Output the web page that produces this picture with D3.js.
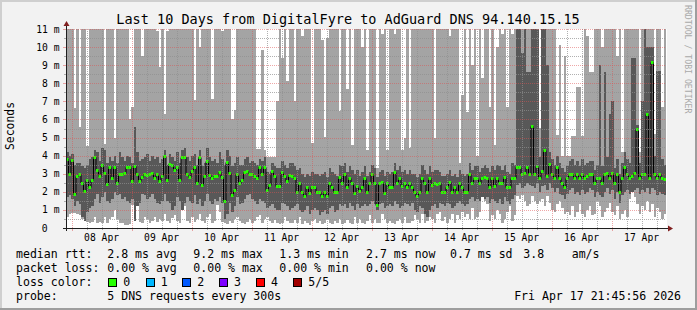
<!DOCTYPE html>
<html><head><meta charset="utf-8">
<script src="https://cdn.jsdelivr.net/npm/d3@7"></script>
<style>
html,body{margin:0;padding:0;background:#f2f2f2;}
svg{display:block;}
text{font-family:"DejaVu Sans Mono",monospace;}
</style></head><body>
<svg id="c" width="697" height="310"></svg>
<script>
// hourly samples (240) – median rtt in ms
const median = [
3.8,3.0,3.75,1.9,2.9,3.0,2.5,2.05,2.65,2.25,
2.65,3.9,3.2,2.85,3.5,3.05,2.45,3.35,2.75,3.35,
2.5,3.0,3.0,3.05,3.35,3.35,2.6,3.45,3.0,2.6,
2.8,3.0,2.95,3.0,3.05,2.75,3.0,2.6,2.85,4.0,
2.65,3.55,3.5,3.2,3.35,2.65,3.9,3.95,3.0,2.8,
3.15,3.35,2.5,3.95,2.35,2.9,3.7,2.95,2.75,2.9,
2.85,3.1,2.8,1.5,3.65,3.05,1.8,2.1,3.0,2.5,
2.65,3.1,3.15,3.0,3.0,2.9,2.75,3.35,3.0,3.35,
2.1,2.35,3.15,2.85,2.3,2.3,3.1,2.9,2.6,2.95,
2.9,2.75,2.0,2.5,2.0,1.75,2.25,1.95,2.25,2.25,
2.0,2.0,1.75,2.0,1.75,2.5,2.25,2.0,2.0,2.8,
2.5,3.0,2.25,2.75,2.5,1.95,2.3,2.05,2.25,2.75,
2.0,2.5,3.0,2.5,1.25,2.5,2.55,1.95,2.5,2.25,
2.25,3.1,2.5,2.75,2.3,2.5,2.25,2.5,2.25,2.0,
1.75,2.0,2.75,2.5,2.0,2.75,2.35,2.5,2.45,2.5,
2.0,2.0,2.25,2.55,2.0,2.25,2.0,2.5,2.25,2.0,
2.0,3.0,2.5,2.75,2.75,2.5,2.75,2.8,2.75,2.25,
2.75,2.3,2.75,2.5,2.5,2.8,2.25,2.25,2.75,2.75,
3.35,3.35,3.0,3.05,3.35,3.0,5.65,3.0,3.4,2.75,
3.15,4.3,2.85,3.55,3.0,2.75,3.35,2.75,2.5,2.25,
2.75,3.0,3.0,2.75,3.0,2.75,3.0,2.75,2.9,3.0,
3.0,2.5,2.75,2.75,2.5,3.0,3.05,2.75,3.05,2.5,
3.0,2.0,2.75,3.35,3.0,2.75,2.85,3.05,5.45,2.75,
3.0,3.0,6.3,2.75,9.2,3.0,2.75,3.0,2.75,2.7];

// 4th of 5 sorted pings (upper edge of inner smoke)
const ping4 = [
4.2,4.0,4.1,3.5,3.6,3.6,3.4,3.3,3.5,3.8,
3.9,4.3,4.2,3.7,4.4,4.3,3.6,3.9,3.7,4.0,
3.6,4.2,3.9,3.7,4.0,3.9,3.6,5.6,4.2,3.7,
3.8,3.9,4.1,3.7,4.0,3.8,3.9,3.6,3.8,4.3,
3.5,4.1,3.9,3.7,4.2,3.6,4.3,4.4,3.9,3.7,
4.0,4.1,3.5,4.3,3.4,3.6,4.4,3.9,3.7,3.8,
3.6,4.2,3.8,3.5,4.3,4.0,3.4,3.6,3.9,3.5,
3.5,3.8,3.9,3.6,3.7,3.6,3.5,3.8,3.7,3.9,
3.1,3.0,3.6,3.4,3.3,3.3,3.7,3.5,3.3,3.6,
3.6,3.4,3.2,3.3,3.0,2.8,3.0,2.9,3.1,3.0,
3.0,2.9,3.0,3.1,2.8,3.3,3.1,3.0,2.9,3.5,
3.4,3.6,3.1,3.4,3.2,3.0,3.2,2.9,3.1,3.4,
2.9,3.1,3.5,3.3,2.8,3.1,3.2,2.9,3.1,3.0,
3.1,3.6,3.2,3.4,3.1,3.2,3.0,3.2,3.0,3.0,
2.8,3.0,3.5,3.2,3.0,3.4,3.1,3.2,3.2,3.1,
2.9,2.9,3.0,3.2,2.9,3.0,2.8,3.2,3.0,2.9,
3.0,3.6,3.2,3.4,3.4,3.1,3.3,3.5,3.3,3.1,
3.4,3.2,3.5,3.4,3.2,3.5,3.1,3.0,3.6,3.5,
12,12,9.65,12,8.65,8.65,12,12,12,3.9,
12,12,9.0,4.2,3.8,3.5,4.0,3.6,3.3,3.1,
3.4,3.7,3.8,3.5,3.7,3.4,3.8,3.5,3.6,3.7,
3.7,3.2,3.5,9.0,3.4,8.65,3.9,6.3,7.0,3.3,
3.8,3.0,3.6,4.2,3.8,3.6,9.4,9.4,5.7,3.6,
7.0,11.5,10.0,10.0,10.0,4.0,8.7,8.7,3.8,3.5];

// 2nd of 5 sorted pings (lower edge of inner smoke)
const ping2 = [
1.7,1.8,1.6,1.2,1.5,1.3,0.6,0.4,0.9,1.1,
1.2,1.6,1.9,1.4,1.7,2.0,1.5,1.4,1.6,2.0,
1.8,1.9,1.6,1.7,1.5,1.4,1.6,0.4,1.2,1.4,
1.9,1.8,1.6,1.7,1.9,1.6,1.4,1.3,1.5,1.9,
1.5,1.4,1.0,1.2,1.7,1.5,1.0,1.4,1.7,1.5,
1.4,1.8,1.3,1.6,1.2,1.5,1.9,1.5,1.3,1.6,
1.5,1.7,1.4,0.5,0.8,1.4,0.9,1.2,1.7,1.3,
1.4,1.6,1.8,1.9,1.6,1.5,1.3,1.6,1.5,1.4,
1.1,1.2,1.3,1.1,1.0,1.0,1.4,1.3,1.2,1.0,
1.1,1.2,1.3,1.0,0.9,1.0,1.2,0.8,1.0,1.1,
1.0,0.7,0.9,1.0,0.8,1.1,1.2,0.9,1.0,1.3,
1.2,1.3,1.1,1.4,1.2,1.0,1.3,1.1,1.2,1.3,
1.2,1.3,1.5,1.3,1.0,1.3,1.4,1.1,1.2,1.3,
1.2,1.5,1.3,1.1,1.2,1.4,1.3,1.2,1.4,1.0,
0.9,1.2,1.1,0.8,0.6,1.0,1.2,1.3,1.1,1.4,
1.3,1.2,1.4,1.3,1.1,1.2,1.4,1.5,1.3,1.2,
1.3,1.6,1.7,1.5,1.6,1.5,1.7,1.6,1.7,1.4,
1.6,1.5,1.4,1.6,1.3,1.7,1.5,1.3,1.6,1.8,
2.4,2.5,2.2,2.3,2.5,2.4,2.3,2.2,2.5,2.0,
2.3,2.4,2.1,2.5,2.2,2.0,2.2,1.9,1.8,1.6,
1.9,2.1,2.2,1.9,2.0,1.8,2.1,1.9,2.0,2.2,
2.1,1.7,2.0,1.8,1.7,2.0,2.2,1.9,2.1,1.6,
2.0,1.4,1.8,2.0,2.1,1.9,2.0,2.1,2.2,1.9,
2.1,2.0,2.2,1.9,2.2,2.1,1.8,2.0,1.9,1.8];

// fastest ping (lower edge of outer smoke)
const ping1 = [
0.6,0.8,0.85,0.85,0.8,0.7,0.5,0.45,0.35,0.3,
0.35,0.6,0.3,0.35,0.25,0.6,0.3,0.5,0.6,1.0,
0.5,0.3,0.3,0.15,0.15,0.2,1.25,1.3,1.2,0.35,
0.3,0.6,0.5,0.3,0.4,0.6,0.35,0.5,0.4,0.8,
0.4,0.3,0.55,0.7,0.4,0.3,1.75,1.2,0.4,0.3,
0.6,0.35,0.5,0.8,0.4,0.3,0.6,0.8,0.3,0.4,
1.25,0.9,0.35,0.3,0.2,0.4,0.3,0.5,0.6,0.4,
0.3,0.2,0.35,0.5,0.3,0.4,0.6,0.7,0.3,0.5,
0.6,0.4,0.3,0.45,0.3,0.2,0.3,0.6,0.4,0.3,
0.3,0.45,0.3,0.6,0.2,0.4,0.3,0.15,0.4,0.5,
0.3,0.4,0.2,0.3,0.5,0.3,0.2,0.4,0.3,0.5,
0.2,0.3,0.45,0.3,0.2,0.6,0.3,0.5,0.3,0.2,
0.4,0.7,0.3,0.5,0.25,0.3,0.8,0.5,0.3,0.4,
0.3,0.2,0.4,0.5,0.3,0.6,0.25,0.3,0.4,0.7,
0.5,0.3,0.8,0.3,0.4,0.6,0.5,0.3,0.8,0.9,
0.4,0.6,0.3,0.5,0.8,0.3,0.7,0.5,0.9,0.6,
0.8,0.5,1.1,0.5,0.6,0.9,1.7,1.5,1.3,0.4,
0.7,0.5,1.0,0.8,0.3,0.5,0.9,1.2,0.4,0.7,
1.75,1.6,1.8,1.5,1.2,1.3,1.75,1.5,1.3,1.5,
1.6,1.2,1.75,1.4,1.0,0.9,1.3,1.5,1.1,0.8,
0.9,0.7,1.2,0.6,0.9,1.3,0.8,0.6,1.0,1.2,
0.7,0.8,1.5,1.2,0.6,0.9,1.1,1.4,0.9,0.7,
1.2,0.5,0.8,1.0,0.6,1.6,2.1,1.7,1.3,0.8,
1.2,1.0,1.5,0.9,1.3,0.6,1.1,0.9,0.5,0.8];

// slowest ping (upper edge of outer smoke; 12 = off the top of the chart)
const ping5 = [
12,12,12,6.65,12,5.6,12,12,4.55,12,
12,12,12,12,12,4.65,12,12,12,5.0,
12,12,12,12,12,6.0,6.7,12,12,12,
9.5,12,12,12,12,12,10.9,8.9,12,6.3,
10.9,12,12,12,12,12,12,12,12,12,
12,7.05,12,10.0,12,12,12,12,7.15,12,
12,12,10.9,12,12,12,6.0,6.5,12,12,
12,12,12,12,12,12,4.35,4.35,9.85,4.3,
3.95,3.95,3.95,3.95,7.0,12,9.4,12,8.1,12,
12,7.0,12,12,10.6,12,12,12,4.7,12,
12,12,10.4,5.05,10.5,12,12,12,12,6.45,
12,12,7.7,12,4.6,12,12,12,10.0,12,
4.3,12,12,12,3.3,12,10.7,12,4.3,12,
12,10.7,12,12,4.3,4.95,12,4.4,12,12,
12,12,12,12,12,12,12,4.95,12,12,
12,12,12,10.6,12,12,12,3.6,7.35,12,
6.4,12,9.0,12,4.0,12,8.3,12,12,6.7,
12,4.6,10.0,12,10.7,12,6.7,12,10.7,12,
12,12,12,12,12,12,12,12,12,5.55,
12,12,12,12,12,12,5.15,10.1,4.0,9.5,
4.0,4.0,5.1,5.1,7.8,7.8,5.1,12,10.6,8.6,
8.6,12,12,12,10.0,12,12,12,12,12,
9.5,12,4.2,12,12,12,12,12,12,4.2,
12,12,12,12,12,5.2,12,12,6.7,12];

const yTicks = [0,1,2,3,4,5,6,7,8,9,10,11];
const yTickLabels = ["0","1 m","2 m","3 m","4 m","5 m","6 m","7 m","8 m","9 m","10 m","11 m"];
const lossLabels = ["0","1","2","3","4","5/5"];
const lossColors = ["#26ff00","#00b8ff","#0059ff","#7e00ff","#ff0000","#a10000"];
const title = "Last 10 Days from DigitalFyre to AdGuard DNS 94.140.15.15";
const legendRows = [
  [["median rtt:",16],["2.8 ms avg",107.3],["9.2 ms max",193.3],["1.3 ms min",279.3],["2.7 ms now",366],["0.7 ms sd",450],["3.8",523.3],["am/s",571.7]],
  [["packet loss:",16],["0.00 % avg",107.3],["0.00 % max",193.3],["0.00 % min",279.3],["0.00 % now",366]],
  [["loss color:",16]],
  [["probe:",16],["5 DNS requests every 300s",107.3]]
];
const stamp = "Fri Apr 17 21:45:56 2026";

const W=697,H=310;
const svg=d3.select("#c");
svg.append("rect").attr("width",W).attr("height",H).attr("fill","#f2f2f2");
// 3D frame
svg.append("rect").attr("x",0).attr("y",0).attr("width",W).attr("height",2).attr("fill","#cfcfcf");
svg.append("rect").attr("x",0).attr("y",0).attr("width",2).attr("height",H).attr("fill","#cfcfcf");
svg.append("rect").attr("x",0).attr("y",H-2).attr("width",W).attr("height",2).attr("fill","#9e9e9e");
svg.append("rect").attr("x",W-2).attr("y",0).attr("width",2).attr("height",H).attr("fill","#9e9e9e");

const t0=Date.UTC(2026,3,7,21,45,56), stepMs=3600e3, n=median.length;
const x=d3.scaleUtc().domain([new Date(t0),new Date(t0+n*stepMs)]).range([66,666]);
const y=d3.scaleLinear().domain([0,11]).range([228,29]);
const rows=median.map((m,i)=>({t:new Date(t0+i*stepMs),m,p1:ping1[i],p2:ping2[i],p4:ping4[i],p5:ping5[i]}));
const rowsExt=rows.concat([Object.assign({},rows[n-1],{t:new Date(t0+n*stepMs)})]);

// canvas
svg.append("rect").attr("x",x.range()[0]).attr("y",y(11)).attr("width",x.range()[1]-x.range()[0]+1).attr("height",y(0)-y(11)).attr("fill","#ffffff");

const defs=svg.append("defs");
defs.append("clipPath").attr("id","pc").append("rect")
  .attr("x",x.range()[0]).attr("y",y(11)).attr("width",x.range()[1]-x.range()[0]).attr("height",y(0)-y(11));
const g=svg.append("g").attr("clip-path","url(#pc)");

const area=(lo,hi)=>d3.area().x(d=>x(d.t)).y0(d=>y(d[lo])).y1(d=>y(d[hi])).curve(d3.curveStepAfter);
g.append("path").datum(rowsExt).attr("d",area("p1","p5")).attr("fill","#a4a4a4").attr("shape-rendering","crispEdges");
g.append("path").datum(rowsExt).attr("d",area("p2","p4")).attr("fill","#585858").attr("shape-rendering","crispEdges");
g.append("path").datum(rowsExt).attr("d",d3.line().x(d=>x(d.t)).y(d=>Math.round(y(d.m))+0.5).curve(d3.curveStepAfter))
  .attr("fill","none").attr("stroke","#000").attr("stroke-width",1);
g.selectAll("rect.med").data(rows).join("rect").attr("class","med")
  .attr("x",d=>x(d.t)).attr("width",d=>x(new Date(+d.t+stepMs))-x(d.t))
  .attr("y",d=>Math.round(y(d.m))-1).attr("height",3).attr("fill",lossColors[0]);

// grid
const gridMinor="rgba(143,143,143,0.7)", gridMajor="rgba(222,79,79,0.5)";
const gg=svg.append("g");
const [X0,X1]=x.range();
const halfTicks=d3.range(0.5,11,1);
gg.selectAll("line.hm").data(halfTicks).join("line").attr("x1",X0).attr("x2",X1).attr("y1",d=>Math.round(y(d))+0.5).attr("y2",d=>Math.round(y(d))+0.5)
  .attr("stroke",gridMinor).attr("stroke-dasharray","1,1");
const days=d3.utcDay.range(x.domain()[0],x.domain()[1]);
const six=d3.utcHour.every(6).range(x.domain()[0],x.domain()[1]).filter(d=>d.getUTCHours()!==0);
gg.selectAll("line.vm").data(six).join("line").attr("x1",d=>Math.round(x(d))+0.5).attr("x2",d=>Math.round(x(d))+0.5).attr("y1",y(0)).attr("y2",y(11))
  .attr("stroke",gridMinor).attr("stroke-dasharray","1,1");
gg.selectAll("line.hM").data(yTicks.filter(v=>v>0)).join("line").attr("x1",X0).attr("x2",X1).attr("y1",d=>Math.round(y(d))+0.5).attr("y2",d=>Math.round(y(d))+0.5)
  .attr("stroke",gridMajor).attr("stroke-dasharray","1,1");
gg.selectAll("line.vM").data(days).join("line").attr("x1",d=>Math.round(x(d))+0.5).attr("x2",d=>Math.round(x(d))+0.5).attr("y1",y(0)).attr("y2",y(11))
  .attr("stroke",gridMajor).attr("stroke-dasharray","1,1");
// ticks
gg.selectAll("line.yt").data(halfTicks).join("line").attr("x1",X0-2).attr("x2",X0).attr("y1",d=>Math.round(y(d))+0.5).attr("y2",d=>Math.round(y(d))+0.5).attr("stroke",gridMinor);
gg.selectAll("line.yT").data(yTicks).join("line").attr("x1",X0-3).attr("x2",X0).attr("y1",d=>Math.round(y(d))+0.5).attr("y2",d=>Math.round(y(d))+0.5).attr("stroke",gridMajor);
gg.selectAll("line.xt").data(six).join("line").attr("x1",d=>Math.round(x(d))+0.5).attr("x2",d=>Math.round(x(d))+0.5).attr("y1",y(0)).attr("y2",y(0)+2).attr("stroke",gridMinor);
gg.selectAll("line.xT").data(days).join("line").attr("x1",d=>Math.round(x(d))+0.5).attr("x2",d=>Math.round(x(d))+0.5).attr("y1",y(0)).attr("y2",y(0)+3).attr("stroke",gridMajor);

// axes
const axisCol="#1f1f1f", arrowCol="#801f1f";
svg.append("line").attr("x1",X0-3).attr("x2",X1+3).attr("y1",y(0)+0.5).attr("y2",y(0)+0.5).attr("stroke",axisCol);
svg.append("line").attr("x1",X0+0.5).attr("x2",X0+0.5).attr("y1",y(0)+3).attr("y2",y(11)-4).attr("stroke",axisCol);
svg.append("path").attr("d",`M${X1+2},${y(0)-2.5}L${X1+7},${y(0)+0.5}L${X1+2},${y(0)+3.5}Z`).attr("fill",arrowCol);
svg.append("path").attr("d",`M${X0-2.5},${y(11)-3}L${X0+0.5},${y(11)-8}L${X0+3.5},${y(11)-3}Z`).attr("fill",arrowCol);

// axis labels
svg.selectAll("text.yl").data(yTicks).join("text").attr("class","yl")
  .attr("x",d=>d===0?47.6:59.5).attr("y",d=>y(d)+3.5).attr("text-anchor","end")
  .attr("font-size","9.7px").attr("fill","#000").text((d,i)=>yTickLabels[i]);
svg.selectAll("text.xl").data(days).join("text").attr("class","xl")
  .attr("x",d=>x(new Date(+d+12*3600e3))).attr("y",240.5).attr("text-anchor","middle")
  .attr("font-size","9.7px").attr("fill","#000").text(d=>d3.utcFormat("%d %b")(d));

svg.append("text").attr("x",348).attr("y",24).attr("text-anchor","middle").attr("font-size","13.5px").attr("fill","#000").text(title);
svg.append("text").attr("transform","translate(14,126) rotate(-90)").attr("text-anchor","middle").attr("font-size","11.4px").attr("fill","#000").text("Seconds");
svg.append("text").attr("transform","translate(684.5,5) rotate(90)").attr("text-anchor","start").attr("font-size","8.2px").attr("fill","#a9a9a9").text("RRDTOOL / TOBI OETIKER");

// legend
const lg=svg.append("g").attr("font-size","11.55px").attr("fill","#000");
legendRows.forEach((r,ri)=>{
  r.forEach(([s,xx])=>lg.append("text").attr("x",xx).attr("y",258+ri*14).attr("xml:space","preserve").text(s));
});
const boxX=[108.3,145.7,182.3,219,256,293.3];
lossLabels.forEach((l,i)=>{
  lg.append("rect").attr("x",Math.round(boxX[i])+0.5).attr("y",278.5).attr("width",8).attr("height",8).attr("fill",lossColors[i]).attr("stroke","#000").attr("stroke-width",1);
  lg.append("text").attr("x",boxX[i]+15).attr("y",286).text(l);
});
lg.append("text").attr("x",681).attr("y",300).attr("text-anchor","end").text(stamp);
</script>
</body></html>
